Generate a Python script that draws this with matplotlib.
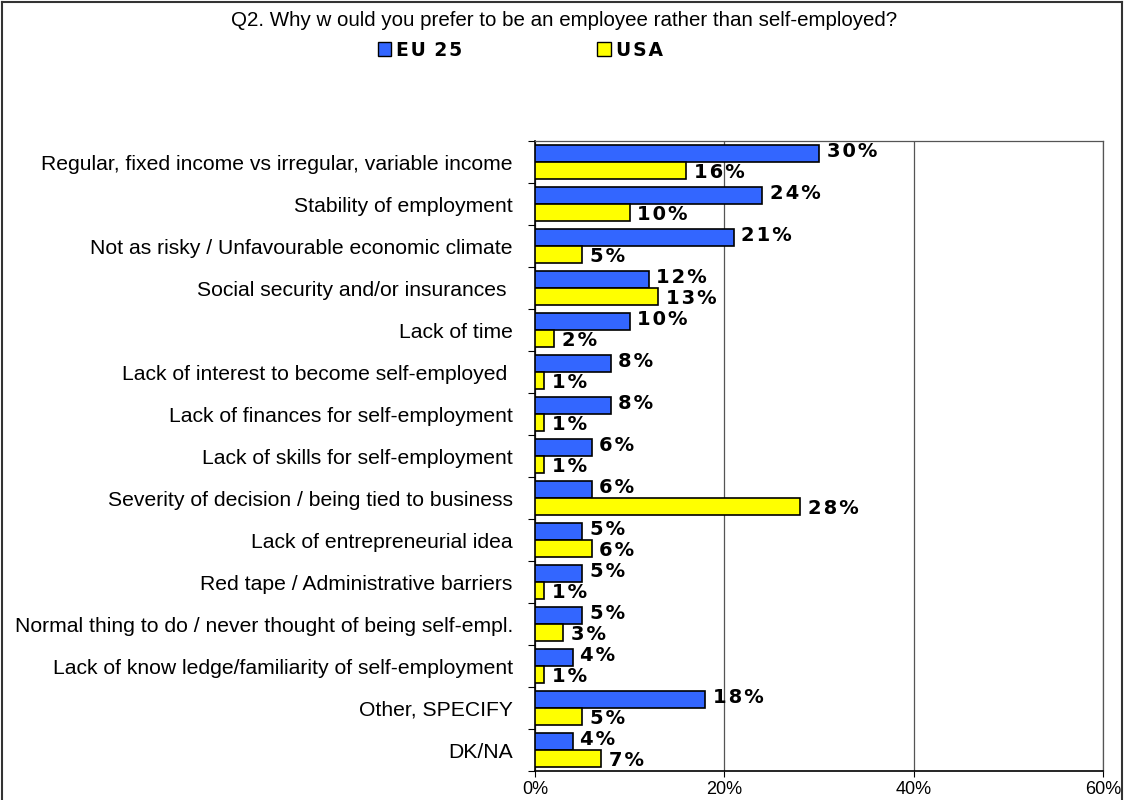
import numpy as np
import matplotlib.pyplot as plt
from matplotlib.lines import Line2D
from matplotlib.patches import Patch

categories = [
    'Regular, fixed income vs irregular, variable income',
    'Stability of employment',
    'Not as risky / Unfavourable economic climate',
    'Social security and/or insurances ',
    'Lack of time',
    'Lack of interest to become self-employed ',
    'Lack of finances for self-employment',
    'Lack of skills for self-employment',
    'Severity of decision / being tied to business',
    'Lack of entrepreneurial idea',
    'Red tape / Administrative barriers',
    'Normal thing to do / never thought of being self-empl.',
    'Lack of know ledge/familiarity of self-employment',
    'Other, SPECIFY',
    'DK/NA',
]
eu25 = [30, 24, 21, 12, 10, 8, 8, 6, 6, 5, 5, 5, 4, 18, 4]
usa = [16, 10, 5, 13, 2, 1, 1, 1, 28, 6, 1, 3, 1, 5, 7]
xticks = [0, 20, 40, 60]

plt.rcParams['font.family'] = ['Liberation Sans', 'DejaVu Sans']

fig = plt.figure(figsize=(11.24, 8), dpi=100)
ax = fig.add_axes([535 / 1124, 1 - 771 / 800, (1103 - 535) / 1124, (771 - 141) / 800])

y = np.arange(len(categories))
h = 0.41
ax.barh(y - 0.21, eu25, height=h, color='#3366FF', edgecolor='black', linewidth=1.2, zorder=3)
ax.barh(y + 0.21, usa, height=h, color='#FFFF00', edgecolor='black', linewidth=1.2, zorder=3)


def pct(v):
    # spaced out like the original labels
    return '\u200a'.join(str(v) + '%')


lab_font = dict(family='DejaVu Sans', fontweight='bold', fontsize=14)
for i, (a, b) in enumerate(zip(eu25, usa)):
    ax.text(a + 0.8, i - 0.25, pct(a), va='center', ha='left', zorder=4, **lab_font)
    ax.text(b + 0.8, i + 0.25, pct(b), va='center', ha='left', zorder=4, **lab_font)

ax.set_xlim(0, 60)
ax.set_ylim(len(categories) - 0.5, -0.5)
ax.set_xticks(xticks)
ax.set_xticklabels(['%d%%' % t for t in xticks], fontsize=13)
ax.tick_params(axis='x', length=4, direction='out', pad=3)
ax.set_yticks(np.arange(len(categories) + 1) - 0.5)
ax.set_yticklabels([])
ax.set_yticks(y, minor=True)
ax.set_yticklabels(categories, minor=True, fontsize=15.2)
ax.tick_params(axis='y', which='major', length=5, direction='out')
ax.tick_params(axis='y', which='minor', length=0, pad=16)
ax.grid(axis='x', color='#555555', linewidth=0.9, zorder=0)
for s in ['top', 'right']:
    ax.spines[s].set_color('#555555')
    ax.spines[s].set_linewidth(0.9)
for s in ['left', 'bottom']:
    ax.spines[s].set_color('black')
    ax.spines[s].set_linewidth(1.2)

fig.text(0.502, 1 - 20 / 800, 'Q2. Why w ould you prefer to be an employee rather than self-employed?',
         ha='center', va='center', fontsize=14.8)

handles = [Patch(facecolor='#3366FF', edgecolor='black'), Patch(facecolor='#FFFF00', edgecolor='black')]
fig.legend(handles, ['E\u200aU\u200a 2\u200a5', 'U\u200aS\u200aA'], loc='center',
           bbox_to_anchor=(0.463, 1 - 50 / 800), ncol=2,
           frameon=False, handlelength=0.7, handleheight=0.7, handletextpad=0.3, columnspacing=7.2,
           prop=dict(family='DejaVu Sans', weight='bold', size=13.5))

# outer chart frame
fig.add_artist(Line2D([0.002, 0.002], [0, 0.997], color='#333333', linewidth=1.5))
fig.add_artist(Line2D([0.002, 0.998], [0.997, 0.997], color='#333333', linewidth=1.5))
fig.add_artist(Line2D([0.998, 0.998], [0, 0.997], color='#333333', linewidth=1.5))

fig.savefig('out.png', dpi=100)
